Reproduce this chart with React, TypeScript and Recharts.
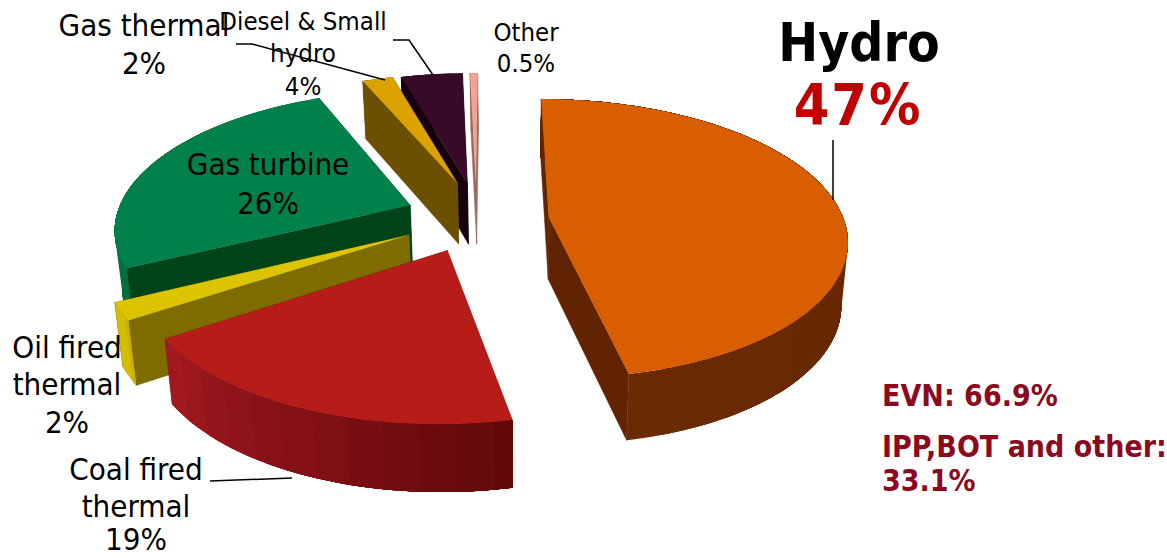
import React from "react";
import { PieChart, Pie } from "recharts";

// drawn far to near so the slices overlap the right way round
const categories = ["Other", "Diesel & Small hydro", "Gas thermal", "Gas turbine", "Oil fired thermal", "Coal fired thermal", "Hydro"];
const shares = [0.5, 4, 2, 26, 2, 19, 47];

const topColors = ["#f0a594", "#380a28", "#dca300", "#00804a", "#dcc400", "#b71d18", "#d85e00"];
const cutColors = ["#9a6a5c", "#16000a", "#6a5000", "#00421a", "#7e6c00", "#8c1414", "#622400"];
const wallFrom = ["#9a6a5c", "#16000a", "#6a5000", "#007a42", "#d4bc00", "#a01820", "#6a2a02"];
const wallTo = ["#9a6a5c", "#16000a", "#6a5000", "#00703c", "#c8b000", "#5e0808", "#622200"];

// how far each slice is pulled out, across and towards the viewer, in radii
const pullAcross = [-0.05, -0.08, -0.115, -0.275, -0.27, -0.14, 0.2];
const pullForward = [-0.28, -0.28, -0.28, -0.11, 0.107, 0.215, -0.02];

const chartData = categories.map((name, i) => ({ name, value: shares[i] }));

const W = 1167;
const H = 558;
const FLATTEN = 137 / 295;
const PERSPECTIVE = 0.152;
const VANISH_X = 520;
const FONT = "'DejaVu Sans Condensed', 'DejaVu Sans', sans-serif";

const RAD = Math.PI / 180;

function hex(c: string) {
  return [1, 3, 5].map((i) => parseInt(c.slice(i, i + 2), 16));
}

function mix(a: string, b: string, t: number) {
  const ca = hex(a);
  const cb = hex(b);
  return `rgb(${ca.map((v, i) => Math.round(v + (cb[i] - v) * t)).join(",")})`;
}

function Slice3D(props: any) {
  const { cx, cy, outerRadius: R, startAngle, endAngle, index } = props;
  const i = index ?? categories.indexOf(props.name);

  const project = (across: number, forward: number) => {
    const s = 1 / (1 - PERSPECTIVE * forward);
    return { x: cx + R * across * s, y: cy + R * FLATTEN * forward * s, s };
  };
  const rim = (deg: number) =>
    project(pullAcross[i] + Math.cos(deg * RAD), pullForward[i] - Math.sin(deg * RAD));
  const drop = (p: { x: number; y: number; s: number }) => ({
    x: VANISH_X + (p.x - VANISH_X) * 0.98,
    y: p.y + 36 + 26 * p.s,
    s: p.s,
  });
  const pts = (list: { x: number; y: number }[]) =>
    list.map((p) => `${p.x.toFixed(1)},${p.y.toFixed(1)}`).join(" ");

  const apex = project(pullAcross[i], pullForward[i]);
  const first = rim(startAngle);
  const last = rim(endAngle);

  const arc = [];
  const span = endAngle - startAngle;
  const steps = Math.max(2, Math.ceil(span / 1.5));
  for (let k = 0; k <= steps; k++) arc.push(rim(startAngle + (span * k) / steps));

  // each band runs on to the end of the arc and the next one paints over it, so no seams show
  const bands = [];
  const perBand = 4;
  for (let k = 0; k < steps; k += perBand) {
    const seg = arc.slice(k);
    bands.push(
      <polygon
        key={k}
        points={pts([...seg, ...seg.map(drop).reverse()])}
        fill={mix(wallFrom[i], wallTo[i], k / steps)}
      />
    );
  }

  const cut = cutColors[i];
  return (
    <g>
      <polygon points={pts([apex, first, drop(first), drop(apex)])} fill={cut} stroke={cut} strokeWidth={0.5} />
      <polygon points={pts([apex, last, drop(last), drop(apex)])} fill={cut} stroke={cut} strokeWidth={0.5} />
      {bands}
      <polygon points={pts([apex, ...arc])} fill={topColors[i]} />
    </g>
  );
}

function Label({ x, y, size = 31, weight = 400, fill = "#000", anchor = "middle", spacing = 0, children }: any) {
  return (
    <text
      x={x}
      y={y}
      fontSize={size}
      fontWeight={weight}
      fill={fill}
      textAnchor={anchor}
      letterSpacing={spacing}
      fontFamily={FONT}
    >
      {children}
    </text>
  );
}

export default function App() {
  return (
    <div style={{ position: "absolute", left: 0, top: 0, width: W, height: H, background: "#fff" }}>
      <PieChart width={W} height={H} margin={{ top: 0, right: 0, bottom: 0, left: 0 }}>
        <Pie
          data={chartData}
          dataKey="value"
          nameKey="name"
          cx={490}
          cy={220}
          innerRadius={0}
          outerRadius={295}
          startAngle={90}
          endAngle={450}
          stroke="none"
          isAnimationActive={false}
          shape={Slice3D}
        />
      </PieChart>
      {/* the chart paints its pie last, so text and leaders sit on their own layer */}
      <svg width={W} height={H} style={{ position: "absolute", left: 0, top: 0, pointerEvents: "none" }}>
        <Label x={144} y={36}>Gas thermal</Label>
        <Label x={144} y={74}>2%</Label>
        <Label x={303} y={30} size={25.6}>Diesel &amp; Small</Label>
        <Label x={303} y={62} size={25.6}>hydro</Label>
        <Label x={303} y={95} size={25.6}>4%</Label>
        <Label x={526} y={41} size={25.5}>Other</Label>
        <Label x={526} y={72} size={25.5}>0.5%</Label>
        <Label x={859} y={61} size={53} weight={700}>Hydro</Label>
        <Label x={858} y={125} size={57} weight={700} fill="#c00000" spacing={2}>47%</Label>
        <Label x={268} y={175}>Gas turbine</Label>
        <Label x={268} y={214}>26%</Label>
        <Label x={67} y={358}>Oil fired</Label>
        <Label x={67} y={395}>thermal</Label>
        <Label x={67} y={433}>2%</Label>
        <Label x={136} y={480}>Coal fired</Label>
        <Label x={136} y={517}>thermal</Label>
        <Label x={136} y={550}>19%</Label>
        <Label x={882} y={406} size={30} weight={700} fill="#8b0a1e" anchor="start">EVN: 66.9%</Label>
        <Label x={882} y={457} size={30} weight={700} fill="#8b0a1e" anchor="start">IPP,BOT and other:</Label>
        <Label x={882} y={491} size={30} weight={700} fill="#8b0a1e" anchor="start">33.1%</Label>
        <polyline points="833,140 833,200" fill="none" stroke="#000" strokeWidth={1.5} />
        <polyline points="236,44 252,44 385,80" fill="none" stroke="#000" strokeWidth={1.5} />
        <polyline points="393,40 409,40 433,75" fill="none" stroke="#000" strokeWidth={1.5} />
        <polyline points="210,481 292,478" fill="none" stroke="#000" strokeWidth={1.5} />
      </svg>
    </div>
  );
}
